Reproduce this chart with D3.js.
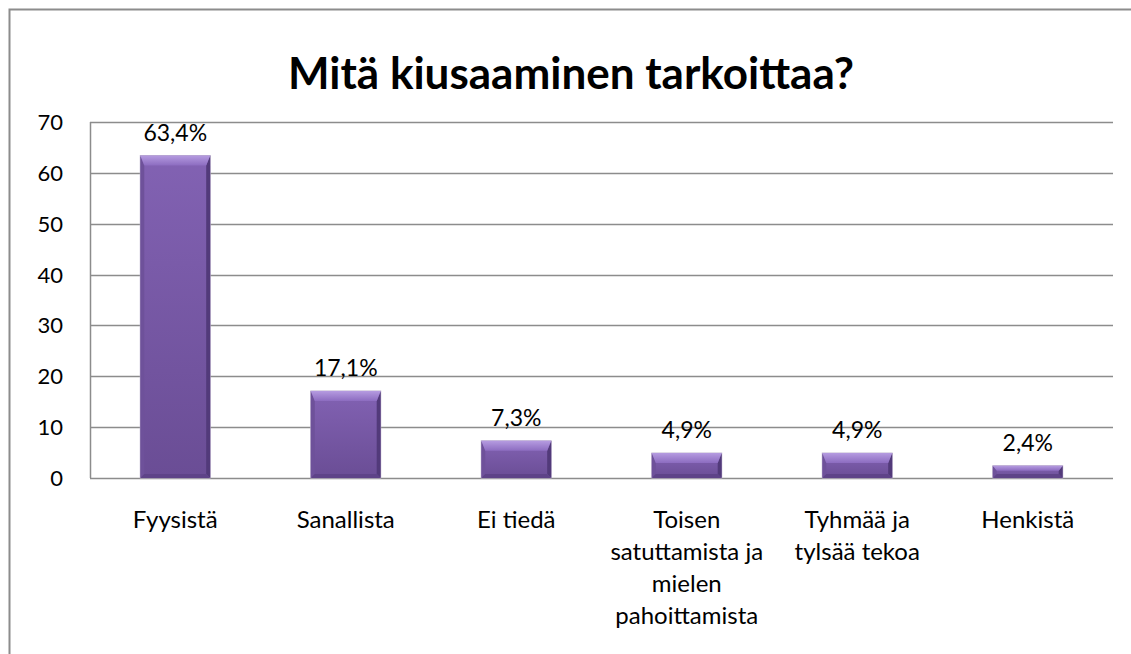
<!DOCTYPE html>
<html>
<head>
<meta charset="utf-8">
<script src="https://cdn.jsdelivr.net/npm/d3@7"></script>
<style>
  body { margin: 0; background: #fff; }
  text { font-family: Lato, "Open Sans", sans-serif; fill: #000; }
</style>
</head>
<body>
<script>
// data
var categories = ["Fyysistä", "Sanallista", "Ei tiedä", "Toisen satuttamista ja mielen pahoittamista", "Tyhmää ja tylsää tekoa", "Henkistä"];
var catLines = [["Fyysistä"], ["Sanallista"], ["Ei tiedä"], ["Toisen", "satuttamista ja", "mielen", "pahoittamista"], ["Tyhmää ja", "tylsää tekoa"], ["Henkistä"]];
var values = [63.4, 17.1, 7.3, 4.9, 4.9, 2.4];
var valueLabels = ["63,4%", "17,1%", "7,3%", "4,9%", "4,9%", "2,4%"];
var yTicks = [0, 10, 20, 30, 40, 50, 60, 70];

var W = 1131, H = 654;
var margin = {left: 90, right: 18, top: 122, bottom: 176};

var svg = d3.select("body").append("svg").attr("width", W).attr("height", H);

var defs = svg.append("defs");
var g1 = defs.append("linearGradient").attr("id", "face").attr("x1", 0).attr("y1", 0).attr("x2", 0).attr("y2", 1);
g1.append("stop").attr("offset", "0%").attr("stop-color", "#8262b3");
g1.append("stop").attr("offset", "100%").attr("stop-color", "#6a4d95");
var g3 = defs.append("linearGradient").attr("id", "topb").attr("x1", 0).attr("y1", 0).attr("x2", 0).attr("y2", 1);
g3.append("stop").attr("offset", "0%").attr("stop-color", "#b59be0");
g3.append("stop").attr("offset", "100%").attr("stop-color", "#8c6cc0");

// outer frame
svg.append("rect").attr("x", 9.5).attr("y", 9.5).attr("width", W + 20).attr("height", H + 20)
  .attr("fill", "none").attr("stroke", "#8c8c8c").attr("stroke-width", 2);

svg.append("text").attr("x", 571).attr("y", 89).attr("text-anchor", "middle")
  .style("font-size", "44px").style("font-weight", "bold").text("Mitä kiusaaminen tarkoittaa?");

var x = d3.scaleBand().domain(categories).range([margin.left, W - margin.right]).paddingInner(0.59).paddingOuter(0.295);
var y = d3.scaleLinear().domain([0, 70]).range([H - margin.bottom, margin.top]);

// gridlines
svg.append("g").selectAll("line").data(yTicks).join("line")
  .attr("x1", margin.left).attr("x2", W - margin.right)
  .attr("y1", function(d){ return Math.round(y(d)) + 0.5; })
  .attr("y2", function(d){ return Math.round(y(d)) + 0.5; })
  .attr("stroke", "#8c8c8c").attr("stroke-width", 1.5);

svg.append("line").attr("x1", margin.left + 0.5).attr("x2", margin.left + 0.5)
  .attr("y1", y(70)).attr("y2", y(0)).attr("stroke", "#8c8c8c").attr("stroke-width", 1.5);

// y labels
svg.append("g").selectAll("text").data(yTicks).join("text")
  .attr("x", 63).attr("y", function(d){ return y(d) + 8; })
  .attr("text-anchor", "end").style("font-size", "22px").text(function(d){ return d; });

// bars with bevel
var bars = svg.append("g").selectAll("g").data(values).join("g");
bars.each(function(d, i) {
  var gg = d3.select(this);
  var x0 = x(categories[i]), bw = x.bandwidth();
  var yt = y(d), yb = y(0);
  var b = Math.min(10, (yb - yt) / 2.5);
  gg.append("rect").attr("x", x0).attr("y", yt).attr("width", bw).attr("height", yb - yt)
    .attr("fill", "url(#face)").attr("stroke", "#b7aac8").attr("stroke-width", 1);
  // left side
  gg.append("path").attr("d", "M" + x0 + "," + yt + "L" + (x0 + 4) + "," + (yt + b) + "L" + (x0 + 4) + "," + (yb - 4) + "L" + x0 + "," + yb + "Z")
    .attr("fill", "#6e519a");
  // right side
  gg.append("path").attr("d", "M" + (x0 + bw) + "," + yt + "L" + (x0 + bw - 4) + "," + (yt + b) + "L" + (x0 + bw - 4) + "," + (yb - 4) + "L" + (x0 + bw) + "," + yb + "Z")
    .attr("fill", "#523a7a");
  // top bevel
  gg.append("path").attr("d", "M" + x0 + "," + yt + "L" + (x0 + bw) + "," + yt + "L" + (x0 + bw - 4) + "," + (yt + b) + "L" + (x0 + 4) + "," + (yt + b) + "Z")
    .attr("fill", "url(#topb)");
  // bottom
  gg.append("path").attr("d", "M" + x0 + "," + yb + "L" + (x0 + bw) + "," + yb + "L" + (x0 + bw - 4) + "," + (yb - 4) + "L" + (x0 + 4) + "," + (yb - 4) + "Z")
    .attr("fill", "#5e4388");
  gg.append("text").attr("x", x0 + bw / 2).attr("y", yt - 15).attr("text-anchor", "middle")
    .style("font-size", "23px").text(valueLabels[i]);
});

// x labels
var xl = svg.append("g").selectAll("text").data(categories).join("text")
  .attr("x", function(d){ return x(d) + x.bandwidth() / 2; })
  .attr("y", 528).attr("text-anchor", "middle").style("font-size", "24px");
xl.each(function(d, i) {
  var t = d3.select(this);
  catLines[i].forEach(function(line, j) {
    t.append("tspan").attr("x", x(d) + x.bandwidth() / 2).attr("dy", j === 0 ? 0 : 32).text(line);
  });
});
</script>
</body>
</html>
